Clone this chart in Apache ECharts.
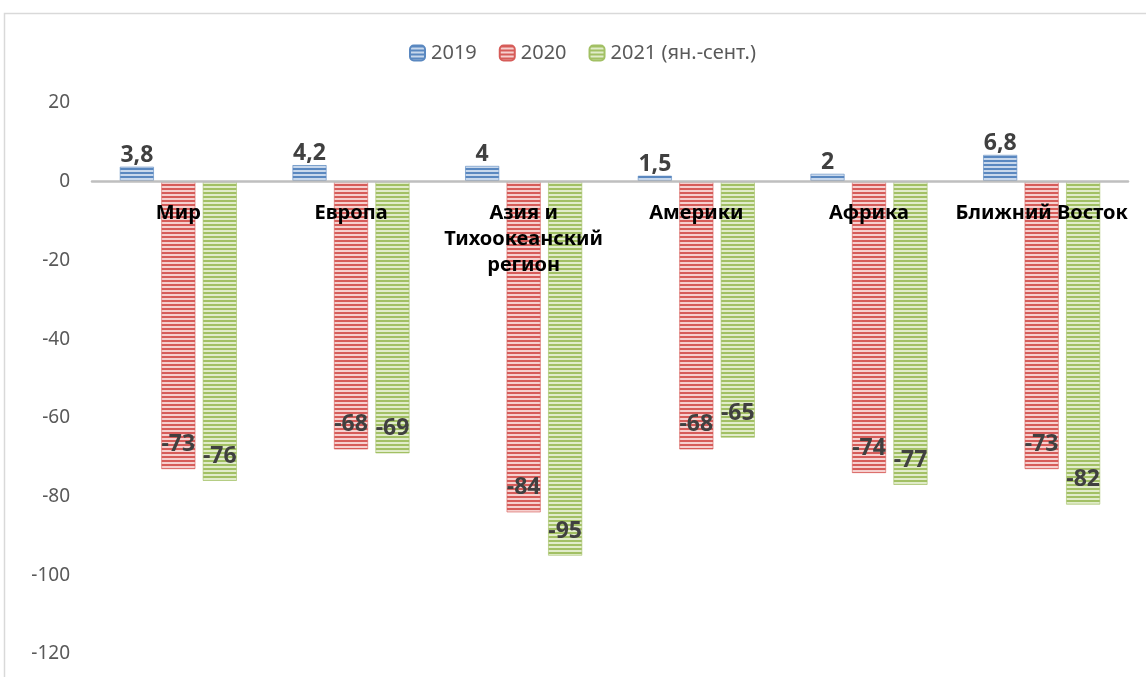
<!DOCTYPE html>
<html>
<head>
<meta charset="utf-8">
<script src="https://cdn.jsdelivr.net/npm/echarts@6/dist/echarts.min.js"></script>
<style>
  html, body { margin: 0; padding: 0; background: #ffffff; }
  #chart { width: 1146px; height: 677px; }
</style>
</head>
<body>
<div id="chart"></div>
<script>
// Regions and yearly change in international arrivals, %
const regions = ['Мир', 'Европа', 'Азия и\nТихоокеанский\nрегион', 'Америки', 'Африка', 'Ближний Восток'];
const seriesNames = ['2019', '2020', '2021 (ян.-сент.)'];
const values2019 = [3.8, 4.2, 4, 1.5, 2, 6.8];
const values2020 = [-73, -68, -84, -68, -74, -73];
const values2021 = [-76, -69, -95, -65, -77, -82];
const yTicks = [20, 0, -20, -40, -60, -80, -100, -120];

const FONT = '"Noto Sans", "Open Sans", sans-serif';

// Plot area geometry (px)
const GRID = { left: 92, right: 18, top: 103, bottom: 23 };
const Y_MIN = -120, Y_MAX = 20;
// distance from plot top down to the zero line
const zeroOffset = (677 - GRID.top - GRID.bottom) * Y_MAX / (Y_MAX - Y_MIN);

// Horizontal-stripe fill: dark line over a light tint, 4px period
function stripes(dark, light) {
  const c = document.createElement('canvas');
  c.width = 4; c.height = 4;
  const g = c.getContext('2d');
  g.fillStyle = light; g.fillRect(0, 0, 4, 4);
  g.fillStyle = dark; g.fillRect(0, 0, 4, 2);
  return { image: c, repeat: 'repeat' };
}

const palette = [
  { dark: '#5a88c0', light: '#c8d8ec' },
  { dark: '#d65c59', light: '#f6d0cf' },
  { dark: '#a2c064', light: '#e1ecca' }
];

const commaFmt = p => String(p.value).replace('.', ',');

const valueLabel = {
  show: true,
  fontFamily: FONT,
  fontWeight: 'bold',
  fontSize: 23,
  color: '#404040',
  formatter: commaFmt
};

function makeSeries(name, data, idx, labelPos) {
  return {
    name: name,
    type: 'bar',
    data: data,
    barWidth: 34,
    barGap: '22%',
    itemStyle: {
      color: stripes(palette[idx].dark, palette[idx].light),
      borderColor: palette[idx].dark,
      borderWidth: 0.6
    },
    label: Object.assign({}, valueLabel, labelPos)
  };
}

const chart = echarts.init(document.getElementById('chart'), null, { renderer: 'canvas' });

chart.setOption({
  animation: false,
  backgroundColor: '#ffffff',
  graphic: [{
    type: 'rect',
    shape: { x: 4.5, y: 13.5, width: 1200, height: 700 },
    style: { fill: 'none', stroke: '#d9d9d9', lineWidth: 1.5 },
    silent: true,
    z: -10
  }],
  legend: {
    top: 43,
    left: 409,
    padding: 0,
    itemWidth: 15,
    itemHeight: 15,
    itemGap: 22,
    textStyle: { fontFamily: FONT, fontSize: 20, color: '#595959', padding: [0, 0, 0, 1] },
    data: seriesNames
  },
  grid: {
    left: GRID.left, right: GRID.right, top: GRID.top, bottom: GRID.bottom,
    containLabel: false,
    outerBoundsMode: 'none'
  },
  xAxis: {
    type: 'category',
    data: regions,
    position: 'top',
    offset: -zeroOffset,
    z: 10,
    axisLine: { onZero: false, lineStyle: { color: '#bfbfbf', width: 2.5 } },
    axisTick: { show: false },
    axisLabel: {
      inside: true,
      interval: 0,
      margin: 19,
      fontFamily: FONT,
      fontWeight: 'bold',
      fontSize: 20,
      lineHeight: 26,
      color: '#000000'
    }
  },
  yAxis: {
    type: 'value',
    min: Y_MIN,
    max: Y_MAX,
    interval: 20,
    axisLine: { show: false },
    axisTick: { show: false },
    splitLine: { show: false },
    axisLabel: {
      margin: 22,
      fontFamily: FONT,
      fontSize: 19,
      color: '#595959',
      formatter: v => (yTicks.indexOf(v) >= 0 ? String(v) : '')
    }
  },
  series: [
    makeSeries(seriesNames[0], values2019, 0, { position: 'top', distance: 0 }),
    makeSeries(seriesNames[1], values2020, 1, { position: 'insideBottom', distance: 13 }),
    makeSeries(seriesNames[2], values2021, 2, { position: 'insideBottom', distance: 13 })
  ]
});
</script>
</body>
</html>
